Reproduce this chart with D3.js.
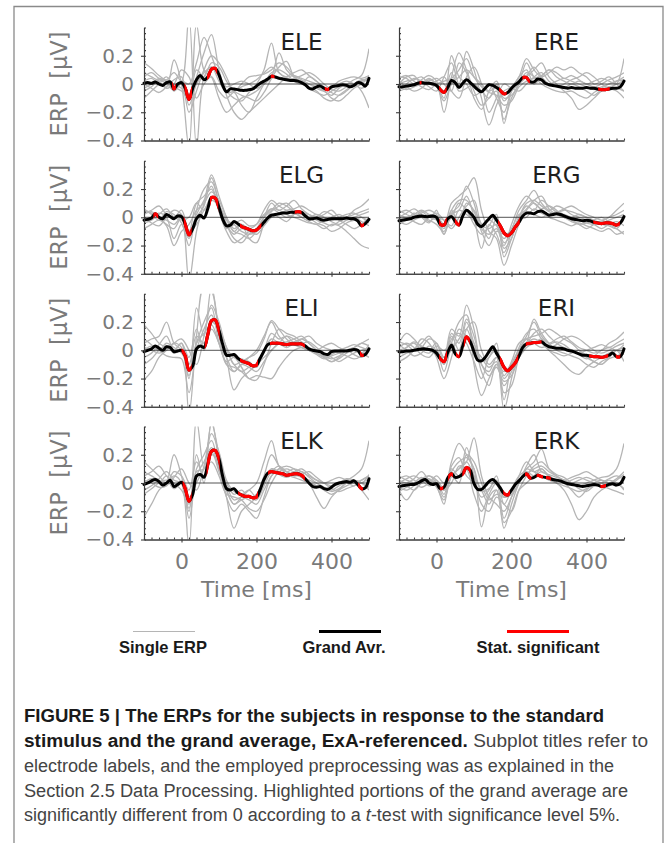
<!DOCTYPE html>
<html>
<head>
<meta charset="UTF-8">
<title>ERPs, ExA-referenced</title>
<script src="https://cdn.jsdelivr.net/npm/d3@7"></script>
<style>
  body { margin: 0; background: #fff; }
  svg { display: block; }
</style>
</head>
<body>
<svg id="fig" width="669" height="843"></svg>
<script>
// time grids (ms): grand average read every 10 ms, single ERPs every 20 ms
var tAvg = d3.range(-100, 501, 10);
var tSingle = d3.range(-100, 501, 20);

// ---- ELE ----
var avgELE = [0.005,0.01,0.005,0.015,0.0,-0.01,0.01,0.015,-0.035,0.0,
  0.01,-0.03,-0.11,-0.03,0.03,0.06,0.03,0.05,0.105,0.11,
  0.065,-0.01,-0.055,-0.035,-0.035,-0.04,-0.045,-0.045,-0.04,-0.035,
  -0.015,0.005,0.02,0.035,0.055,0.05,0.04,0.035,0.03,0.025,
  0.025,0.02,0.01,-0.005,-0.03,-0.035,-0.02,-0.015,-0.03,-0.04,
  -0.02,-0.015,-0.01,-0.005,-0.01,-0.02,-0.01,0.01,0.005,-0.015,
  0.04];
var sigELE = [[-25,-15],[8,28],[68,95],[238,248],[382,394]];
var singleELE = [
  [0.15,0.11,0.06,0.03,0.08,0.02,0.48,-0.45,0.05,0.12,0.02,-0.06,-0.05,-0.02,0.0,0.03,0.08,0.12,0.08,0.04,0.03,0.02,-0.03,-0.06,-0.08,-0.05,-0.02,0.0,0.03,0.06,0.25],
  [0.02,0.04,0.0,-0.02,0.17,0.0,-0.45,0.42,0.1,0.05,-0.1,-0.2,-0.15,-0.1,-0.08,-0.05,0.0,0.05,0.22,0.1,0.05,0.02,0.0,-0.02,-0.05,-0.08,-0.03,0.0,0.0,-0.05,-0.17],
  [-0.05,-0.02,0.03,0.0,-0.04,0.02,0.0,0.15,0.33,0.2,0.05,-0.05,-0.1,-0.12,-0.06,0.0,0.1,0.29,0.08,0.05,0.06,0.04,0.02,0.0,-0.03,-0.02,0.02,0.04,0.05,0.04,0.06],
  [0.05,0.08,0.04,0.02,0.0,-0.03,-0.1,0.05,0.22,0.35,0.1,-0.08,-0.2,-0.25,-0.2,-0.15,-0.1,-0.05,0.0,0.05,0.08,0.1,0.06,0.02,-0.02,-0.06,-0.08,-0.05,0.0,0.03,0.02],
  [-0.1,-0.05,0.0,0.05,-0.02,-0.05,-0.1,0.1,0.05,0.15,0.12,0.02,-0.05,-0.08,-0.1,-0.12,-0.06,0.04,0.12,0.16,0.05,0.0,-0.02,-0.05,-0.1,-0.12,-0.08,-0.04,0.0,0.02,0.05],
  [0.0,-0.03,-0.06,-0.02,0.03,0.05,-0.15,0.0,0.08,0.12,0.06,-0.02,0.0,0.02,0.0,-0.03,0.0,0.04,0.05,0.03,0.04,0.06,0.08,0.05,0.0,-0.04,-0.05,-0.02,0.0,0.02,0.03],
  [0.08,0.05,0.02,-0.03,0.0,0.1,0.05,-0.1,0.0,0.05,-0.05,-0.1,-0.06,-0.15,-0.2,-0.1,0.0,0.08,0.1,0.07,0.02,0.0,0.05,0.02,-0.04,-0.1,-0.12,-0.08,-0.03,0.0,0.05],
  [-0.03,0.0,0.04,0.02,-0.05,0.0,-0.2,-0.05,0.1,0.2,0.15,0.05,-0.05,0.0,0.05,0.06,0.07,0.1,0.15,0.12,0.06,0.03,0.0,-0.03,-0.05,-0.03,0.0,0.02,0.0,-0.03,0.0]
];

// ---- ERE ----
var avgERE = [-0.02,-0.02,-0.015,-0.01,-0.005,0.005,0.01,0.005,0.005,0.0,
  -0.01,-0.04,-0.06,-0.025,0.025,0.01,-0.025,0.005,0.03,0.01,
  -0.015,-0.04,-0.055,-0.03,-0.005,-0.01,-0.025,-0.045,-0.07,-0.06,
  -0.03,-0.005,0.015,0.045,0.045,0.015,0.015,0.035,0.03,0.005,
  -0.005,-0.01,-0.015,-0.02,-0.025,-0.03,-0.025,-0.03,-0.03,-0.03,
  -0.025,-0.03,-0.03,-0.035,-0.04,-0.04,-0.035,-0.03,-0.03,-0.02,
  0.02];
var sigERE = [[-45,-40],[7,27],[167,187],[229,249],[431,462]];
var singleERE = [
  [0.05,0.04,0.0,0.03,0.06,0.02,-0.2,0.05,0.22,0.1,-0.05,-0.15,-0.1,-0.05,-0.25,-0.1,0.0,0.15,0.05,0.02,0.0,0.02,0.04,0.02,0.0,-0.02,-0.04,-0.02,0.0,0.02,0.05],
  [-0.03,0.0,0.04,0.02,-0.02,-0.05,0.05,0.15,0.0,0.23,0.1,-0.1,-0.29,-0.15,-0.05,-0.02,0.05,0.18,0.1,0.05,0.08,0.12,0.1,0.12,0.08,0.05,0.0,0.02,0.05,0.0,-0.05],
  [0.0,0.05,0.06,0.0,0.03,0.0,-0.1,0.2,0.05,0.0,-0.08,-0.05,0.0,-0.1,-0.2,-0.05,0.0,0.05,0.1,0.15,0.05,0.0,-0.05,-0.1,-0.18,-0.15,-0.1,-0.05,-0.02,0.0,0.18],
  [-0.05,-0.03,0.0,0.02,0.0,0.02,0.05,-0.05,-0.1,0.05,0.12,0.0,-0.2,-0.1,0.0,-0.03,-0.05,0.0,0.05,0.08,0.02,-0.02,0.0,0.03,0.05,0.08,0.05,0.0,-0.03,-0.05,-0.1],
  [0.02,-0.02,-0.05,-0.03,0.02,0.04,0.0,-0.05,0.15,0.08,-0.1,-0.18,-0.05,0.02,-0.1,-0.08,0.0,0.08,0.05,0.0,-0.03,-0.05,-0.06,-0.05,-0.08,-0.1,-0.06,-0.03,0.0,0.02,0.03],
  [0.0,0.02,0.03,0.05,0.0,-0.02,-0.12,0.0,0.05,0.1,0.05,0.0,-0.05,-0.03,-0.28,-0.05,0.05,0.1,0.0,0.05,0.1,0.05,0.02,0.0,0.02,0.0,-0.02,0.0,0.03,0.05,0.08],
  [-0.02,-0.04,-0.02,0.0,0.04,0.0,-0.05,0.08,-0.05,-0.03,0.0,-0.05,-0.1,0.0,-0.12,-0.05,0.03,0.06,0.12,0.05,0.0,-0.02,-0.03,0.0,-0.02,-0.05,-0.08,-0.04,-0.02,-0.03,-0.05],
  [0.04,0.06,0.02,-0.02,-0.04,0.0,0.02,0.04,0.1,0.18,0.05,-0.02,-0.06,-0.08,-0.15,-0.12,-0.02,0.02,0.04,0.06,0.1,0.08,0.04,0.06,0.03,0.0,0.02,0.04,0.02,0.0,0.03]
];

// ---- ELG ----
var avgELG = [-0.02,-0.015,-0.005,0.025,0.0,-0.01,0.02,0.005,-0.01,0.01,
  0.005,-0.05,-0.125,-0.08,-0.01,0.015,-0.005,0.06,0.14,0.135,
  0.07,-0.015,-0.06,-0.055,-0.03,-0.045,-0.065,-0.075,-0.085,-0.095,
  -0.09,-0.065,-0.035,-0.005,0.015,0.02,0.025,0.03,0.03,0.035,
  0.035,0.04,0.035,0.01,-0.01,-0.01,-0.005,-0.015,-0.02,-0.015,
  -0.01,-0.01,-0.01,-0.01,-0.005,-0.01,-0.01,-0.025,-0.06,-0.045,
  -0.015];
var sigELG = [[-75,-62],[6,27],[76,98],[156,213],[302,320],[477,487]];
var singleELG = [
  [0.05,0.03,0.0,-0.05,-0.08,0.0,-0.45,-0.1,0.1,0.3,0.15,0.0,-0.1,-0.05,-0.08,-0.05,0.05,0.12,0.08,0.05,0.03,0.0,-0.03,-0.05,-0.02,0.0,0.02,0.0,0.05,0.08,0.13],
  [-0.02,0.0,0.03,0.0,-0.15,-0.05,-0.2,0.05,0.2,0.25,0.1,-0.05,-0.15,-0.18,-0.12,-0.08,0.0,0.06,0.05,0.02,0.0,-0.02,-0.04,-0.05,-0.08,-0.05,-0.06,-0.1,-0.15,-0.2,-0.22],
  [0.03,0.05,0.08,0.02,0.0,0.05,-0.1,0.1,0.15,0.2,0.05,-0.02,-0.05,-0.1,-0.12,-0.1,0.0,0.1,0.05,0.08,0.12,0.06,0.02,0.0,0.02,0.05,0.0,-0.02,0.0,0.02,0.04],
  [-0.08,-0.05,-0.02,-0.06,-0.2,-0.1,-0.05,0.05,0.1,0.18,0.12,0.0,-0.08,-0.05,-0.15,-0.18,-0.05,0.02,0.0,-0.03,0.02,0.04,0.0,-0.04,-0.06,-0.1,-0.08,-0.04,-0.02,0.0,-0.03],
  [0.06,0.02,-0.02,0.04,0.02,-0.04,-0.15,0.0,0.08,0.28,0.1,-0.05,-0.12,-0.08,-0.1,-0.12,-0.06,0.0,0.02,0.05,0.06,0.08,0.05,0.02,0.0,-0.02,0.0,0.02,0.03,0.0,-0.04],
  [0.0,-0.04,-0.06,0.0,0.05,0.02,-0.1,-0.05,0.05,0.12,0.08,-0.02,-0.1,-0.12,-0.15,-0.1,-0.03,0.04,0.08,0.1,0.05,0.0,-0.02,0.0,0.04,0.02,-0.02,-0.05,-0.08,-0.05,0.0],
  [-0.04,-0.02,0.02,0.06,0.0,-0.02,0.0,0.1,0.05,0.15,0.05,-0.08,-0.05,-0.02,-0.06,-0.05,0.02,0.06,0.03,0.0,0.02,0.03,0.02,-0.02,-0.04,-0.06,-0.03,0.0,0.02,0.04,0.06],
  [0.02,0.04,0.0,-0.02,-0.05,0.0,-0.12,0.02,0.12,0.22,0.04,-0.1,-0.18,-0.15,-0.1,-0.08,0.0,0.05,0.1,0.08,0.04,0.02,0.0,0.02,0.0,-0.03,-0.05,-0.02,0.0,-0.03,-0.06]
];

// ---- ERG ----
var avgERG = [-0.025,-0.02,-0.015,-0.01,0.0,0.005,0.01,0.005,0.005,0.01,
  0.0,-0.05,-0.055,-0.01,0.005,-0.03,-0.055,0.01,0.05,0.03,
  0.0,-0.05,-0.065,-0.04,-0.01,0.015,-0.02,-0.06,-0.11,-0.13,
  -0.11,-0.07,-0.035,0.01,0.03,0.03,0.025,0.04,0.045,0.03,
  0.015,0.02,0.025,0.02,0.01,0.0,-0.01,-0.015,-0.02,-0.025,
  -0.02,-0.025,-0.035,-0.04,-0.045,-0.04,-0.04,-0.045,-0.055,-0.04,
  0.005];
var sigERG = [[7,27],[49,62],[164,222],[418,489]];
var singleERG = [
  [0.03,0.05,0.02,0.0,0.02,0.0,-0.05,0.1,0.15,0.2,0.28,0.05,-0.1,-0.15,-0.34,-0.2,-0.05,0.05,0.1,0.05,0.02,0.04,0.02,0.0,-0.02,-0.04,-0.05,-0.03,0.0,0.02,0.05],
  [-0.05,-0.02,0.0,0.04,0.0,-0.02,-0.12,0.02,0.05,0.15,0.0,-0.22,-0.05,-0.12,-0.25,-0.1,0.05,0.12,0.19,0.1,0.05,0.08,0.06,0.02,0.0,-0.02,-0.05,-0.08,-0.05,-0.03,-0.06],
  [0.0,0.03,0.06,0.02,-0.03,0.0,-0.08,0.05,-0.05,0.1,0.05,-0.05,-0.15,0.0,-0.18,-0.12,0.0,0.08,0.05,0.12,0.08,0.04,0.06,0.08,0.05,0.02,0.0,-0.02,0.0,0.05,0.1],
  [-0.02,0.0,-0.03,-0.05,0.0,0.03,-0.02,-0.08,0.0,0.08,0.12,-0.05,-0.08,-0.05,-0.22,-0.15,-0.02,0.0,0.06,0.03,0.0,-0.02,-0.04,-0.06,-0.04,-0.06,-0.08,-0.1,-0.08,-0.12,-0.1],
  [0.05,0.02,0.0,0.03,0.05,0.02,-0.05,0.0,0.1,0.05,-0.05,-0.12,-0.06,0.02,-0.28,-0.15,0.0,0.1,0.12,0.08,0.04,0.02,0.0,-0.03,-0.05,-0.04,-0.02,0.0,-0.03,-0.05,-0.02],
  [-0.03,-0.05,-0.02,0.0,-0.02,-0.05,-0.1,0.03,0.08,0.22,0.1,-0.08,-0.12,-0.08,-0.2,-0.05,0.08,0.15,0.1,0.06,0.08,0.05,0.0,0.0,0.02,0.0,-0.03,-0.05,-0.06,-0.08,0.0],
  [0.02,0.0,0.02,0.05,0.02,0.0,-0.02,-0.06,0.05,0.02,-0.02,-0.06,-0.02,-0.06,-0.15,-0.08,0.02,0.04,0.02,0.0,0.02,0.03,0.05,0.04,0.02,0.0,-0.02,-0.04,-0.02,0.0,0.02],
  [0.0,-0.02,0.03,0.0,-0.04,0.05,-0.12,0.05,0.12,0.12,0.04,-0.1,-0.2,-0.1,-0.12,-0.1,0.0,0.06,0.12,0.15,0.06,0.02,0.0,-0.02,-0.05,-0.08,-0.05,-0.03,-0.05,-0.08,-0.12]
];

// ---- ELI ----
var avgELI = [-0.01,0.0,0.01,0.03,0.015,0.0,0.025,0.02,-0.01,-0.005,
  0.0,-0.04,-0.14,-0.11,0.01,0.03,0.02,0.11,0.21,0.215,
  0.14,0.04,-0.035,-0.035,-0.03,-0.055,-0.075,-0.085,-0.095,-0.11,
  -0.105,-0.055,-0.005,0.04,0.05,0.05,0.05,0.045,0.04,0.045,
  0.045,0.045,0.045,0.03,0.01,0.0,-0.005,-0.01,-0.025,-0.03,
  -0.01,-0.005,-0.005,-0.005,-0.005,0.0,0.005,0.0,-0.035,-0.03,
  0.01];
var sigELI = [[0,27],[62,102],[156,204],[236,329],[476,486]];
var singleELI = [
  [0.18,0.12,0.05,0.02,0.0,0.05,-0.45,0.1,0.45,0.42,0.1,-0.1,-0.15,-0.1,-0.05,0.0,0.1,0.2,0.1,0.05,0.06,0.08,0.05,0.0,-0.04,-0.06,-0.04,0.0,0.02,0.05,0.03],
  [-0.21,-0.15,-0.05,0.0,0.05,0.02,-0.2,0.3,0.1,0.45,0.15,-0.05,-0.28,-0.2,-0.15,-0.1,0.0,0.12,0.08,0.1,0.05,0.02,0.0,-0.02,-0.05,-0.08,-0.06,-0.02,0.0,-0.02,-0.05],
  [0.05,0.08,0.1,0.2,0.05,0.0,-0.15,0.05,0.2,0.3,0.05,-0.08,-0.05,-0.12,-0.2,-0.21,-0.1,0.05,0.15,0.12,0.1,0.06,0.02,0.0,0.03,0.05,0.02,0.0,0.02,0.05,0.08],
  [0.0,0.03,0.0,-0.04,-0.05,-0.06,-0.3,0.0,0.15,0.25,0.1,0.0,-0.1,-0.15,-0.12,-0.1,-0.05,0.0,0.05,0.1,0.08,0.05,0.06,0.02,-0.02,-0.05,-0.08,-0.05,-0.02,0.0,0.02],
  [0.08,0.04,0.0,0.05,0.02,-0.02,-0.1,0.1,0.05,0.2,0.15,0.02,-0.1,-0.08,-0.05,-0.02,0.08,0.21,0.15,0.08,0.04,0.02,0.0,-0.03,-0.06,-0.04,-0.02,0.0,-0.03,-0.05,0.0],
  [-0.05,-0.02,0.04,0.1,0.0,0.05,-0.05,0.15,0.0,0.15,0.05,-0.1,-0.12,-0.15,-0.2,-0.18,-0.19,-0.2,-0.12,-0.05,0.0,0.02,0.0,-0.02,-0.05,-0.03,0.0,0.02,0.04,0.02,0.0],
  [0.02,0.0,-0.02,0.0,0.05,0.08,0.0,-0.1,0.1,0.32,0.2,0.02,-0.05,-0.06,-0.08,-0.12,0.0,0.08,0.05,0.02,0.05,0.08,0.1,0.05,0.02,0.0,-0.02,-0.04,-0.06,-0.04,0.02],
  [-0.1,-0.06,0.0,0.03,-0.02,0.0,-0.18,0.05,0.12,0.18,0.05,-0.05,-0.15,-0.1,-0.12,-0.15,-0.08,0.0,0.05,0.06,0.08,0.1,0.05,0.0,-0.05,-0.08,-0.05,0.0,0.0,-0.02,0.04]
];

// ---- ERI ----
var avgERI = [-0.01,-0.01,-0.005,-0.005,0.0,0.005,0.01,0.01,0.005,0.0,
  -0.02,-0.06,-0.08,-0.015,0.035,-0.025,-0.045,0.03,0.095,0.06,
  -0.01,-0.07,-0.075,-0.05,-0.01,0.025,-0.02,-0.065,-0.12,-0.145,
  -0.12,-0.09,-0.04,0.02,0.045,0.05,0.055,0.055,0.06,0.04,
  0.025,0.02,0.015,0.015,0.01,0.0,-0.005,-0.015,-0.025,-0.035,
  -0.035,-0.04,-0.045,-0.045,-0.05,-0.045,-0.035,-0.02,-0.045,-0.045,
  0.01];
var sigERI = [[7,28],[52,62],[73,89],[169,218],[238,280],[407,458],[478,490]];
var singleERI = [
  [0.05,0.12,0.08,0.02,0.0,0.05,-0.05,0.15,0.1,0.32,0.15,-0.1,-0.15,-0.05,-0.42,-0.2,0.0,0.1,0.2,0.1,0.05,0.08,0.1,0.06,0.02,0.0,-0.02,0.0,0.05,0.08,0.13],
  [-0.05,-0.02,0.0,0.05,0.1,0.02,-0.15,0.05,0.2,0.25,-0.1,-0.32,-0.2,-0.1,-0.25,-0.15,0.0,0.08,0.1,0.12,0.15,0.12,0.08,0.05,0.0,-0.05,-0.08,-0.1,-0.05,0.0,0.02],
  [0.02,0.05,0.02,-0.03,-0.05,0.0,-0.1,0.1,0.0,0.2,0.05,-0.08,-0.05,0.05,-0.3,-0.25,-0.05,0.05,0.22,0.12,0.05,0.0,-0.02,-0.04,-0.06,-0.1,-0.12,-0.08,-0.05,0.0,-0.03],
  [-0.08,-0.05,0.0,0.08,0.05,-0.05,-0.2,-0.05,0.15,0.1,0.05,-0.15,-0.25,-0.1,-0.15,-0.1,-0.05,0.02,0.05,0.08,0.0,-0.05,-0.1,-0.15,-0.17,-0.12,-0.08,-0.05,-0.02,0.0,-0.08],
  [0.0,0.02,0.05,0.0,-0.02,0.03,0.0,0.05,-0.05,0.15,0.2,0.0,-0.1,-0.05,-0.2,-0.12,0.02,0.12,0.15,0.08,0.02,0.04,0.08,0.1,0.08,0.04,0.0,-0.02,0.0,0.03,0.05],
  [0.04,0.0,-0.04,-0.02,0.03,0.0,-0.1,0.08,0.12,0.05,-0.08,-0.2,-0.05,0.0,-0.18,-0.08,0.05,0.08,0.05,0.02,0.04,0.06,0.04,0.0,-0.03,-0.06,-0.04,0.0,0.02,0.0,0.04],
  [-0.03,0.02,0.06,0.03,0.0,-0.03,-0.05,0.0,0.08,0.15,0.02,-0.05,-0.12,-0.08,-0.35,-0.1,0.0,0.05,0.08,0.05,0.0,-0.02,-0.04,-0.02,0.0,-0.04,-0.08,-0.1,-0.06,-0.04,-0.02],
  [0.06,0.04,0.0,0.02,0.08,0.05,-0.08,0.12,0.05,0.22,0.1,-0.1,-0.18,-0.12,-0.22,-0.18,-0.05,0.04,0.12,0.15,0.1,0.05,0.02,0.0,-0.02,0.0,0.02,0.04,0.02,0.05,0.08]
];

// ---- ELK ----
var avgELK = [-0.01,0.0,0.015,0.025,0.01,-0.015,0.0,0.02,-0.025,-0.01,
  0.005,-0.04,-0.13,-0.08,0.05,0.06,0.04,0.13,0.225,0.23,
  0.17,0.045,-0.04,-0.05,-0.04,-0.07,-0.085,-0.095,-0.095,-0.105,
  -0.1,-0.045,0.025,0.07,0.08,0.075,0.07,0.065,0.055,0.06,
  0.065,0.065,0.055,0.03,0.0,-0.025,-0.03,-0.025,-0.04,-0.045,
  -0.03,-0.01,0.0,0.005,0.01,0.005,0.015,-0.01,-0.04,-0.035,
  0.03];
var sigELK = [[3,27],[67,102],[151,204],[231,329],[471,484]];
var singleELK = [
  [0.15,0.1,0.05,0.0,0.05,0.0,-0.45,0.45,0.1,0.42,0.2,-0.05,-0.15,-0.1,-0.05,0.0,0.15,0.3,0.12,0.08,0.1,0.08,0.05,0.02,0.0,-0.02,0.0,0.02,0.05,0.1,0.3],
  [-0.24,-0.15,-0.05,0.0,0.2,0.05,-0.2,0.2,0.0,0.45,0.15,-0.1,-0.32,-0.2,-0.15,-0.1,0.0,0.1,0.08,0.05,0.06,0.05,0.02,0.0,-0.03,-0.06,-0.04,0.0,0.02,0.0,-0.05],
  [0.05,0.08,0.12,0.05,0.0,-0.05,-0.15,0.1,0.2,0.3,0.1,-0.1,-0.2,-0.15,-0.2,-0.25,-0.1,0.05,0.1,0.12,0.1,0.05,0.0,-0.1,-0.18,-0.1,-0.05,-0.02,0.0,0.02,0.05],
  [0.0,0.03,0.0,0.05,-0.03,0.0,-0.25,0.05,0.15,0.25,0.1,-0.02,-0.12,-0.1,-0.12,-0.15,-0.05,0.05,0.1,0.08,0.05,0.06,0.08,0.04,0.0,-0.04,-0.06,-0.04,-0.02,0.0,0.03],
  [0.08,0.05,0.02,0.0,0.08,0.05,-0.05,0.15,0.05,0.2,0.15,0.0,-0.08,-0.05,-0.1,-0.08,0.05,0.2,0.12,0.06,0.04,0.02,0.0,-0.02,-0.05,-0.08,-0.05,0.0,0.02,0.0,-0.03],
  [-0.05,-0.02,0.03,0.08,0.02,0.0,-0.1,0.0,0.1,0.15,0.05,-0.08,-0.1,-0.12,-0.18,-0.2,-0.12,0.0,0.08,0.1,0.08,0.1,0.06,0.02,0.0,0.02,0.04,0.02,0.0,-0.05,-0.12],
  [0.02,0.0,-0.03,-0.02,0.04,0.1,0.0,-0.05,0.12,0.35,0.22,0.02,-0.06,-0.08,-0.05,-0.1,0.02,0.1,0.06,0.04,0.06,0.08,0.04,0.0,-0.03,-0.05,-0.02,0.0,-0.02,0.02,0.05],
  [-0.08,-0.04,0.0,0.02,-0.04,0.0,-0.18,0.08,0.1,0.22,0.08,-0.05,-0.15,-0.12,-0.1,-0.12,-0.02,0.08,0.12,0.08,0.06,0.04,0.0,-0.02,-0.04,-0.02,0.0,0.03,0.02,0.0,0.06]
];

// ---- ERK ----
var avgERK = [-0.025,-0.02,-0.015,-0.01,-0.01,0.0,0.015,0.025,0.0,-0.01,
  -0.005,-0.04,-0.03,0.035,0.065,0.04,0.045,0.065,0.11,0.09,
  -0.005,-0.045,-0.045,-0.02,0.01,0.025,0.0,-0.035,-0.075,-0.085,
  -0.05,-0.01,0.015,0.045,0.065,0.035,0.04,0.055,0.045,0.04,
  0.035,0.025,0.02,0.015,0.005,-0.005,-0.01,-0.015,-0.02,-0.025,
  -0.02,-0.015,-0.01,-0.015,-0.025,-0.02,-0.01,-0.005,-0.015,-0.005,
  0.04];
var sigERK = [[9,18],[31,44],[69,91],[178,196],[236,253],[267,284],[292,305],[437,452]];
var singleERK = [
  [0.03,0.05,0.02,0.0,0.02,0.0,-0.05,0.15,0.28,0.2,0.1,-0.31,-0.1,-0.05,-0.32,-0.15,0.0,0.1,0.15,0.24,0.1,0.05,0.02,0.0,-0.02,0.0,0.02,0.04,0.05,0.1,0.28],
  [-0.05,-0.12,-0.05,0.0,0.05,0.0,-0.1,0.05,0.1,0.15,0.32,0.05,-0.1,-0.15,-0.2,-0.1,0.0,0.1,0.08,0.1,0.05,0.02,0.0,-0.05,-0.1,-0.05,0.0,0.02,0.0,-0.02,0.05],
  [0.02,0.0,0.03,0.08,0.02,-0.02,-0.15,0.1,0.05,0.25,0.05,-0.15,-0.2,-0.1,-0.15,-0.2,-0.05,0.05,0.12,0.15,0.1,0.06,0.04,0.0,-0.04,-0.06,-0.02,0.0,0.03,0.05,0.02],
  [0.0,0.03,0.05,0.02,-0.02,0.0,-0.05,0.0,0.12,0.1,-0.08,-0.2,-0.08,0.0,-0.25,-0.1,0.05,0.15,0.08,0.05,0.02,0.0,-0.05,-0.15,-0.26,-0.2,-0.1,-0.05,-0.02,0.0,-0.05],
  [-0.03,-0.05,-0.02,0.03,0.05,0.02,-0.08,0.12,0.18,0.05,0.0,-0.1,-0.05,0.05,-0.15,-0.05,0.05,0.08,0.05,0.08,0.05,0.02,0.0,0.02,0.04,0.02,0.0,-0.02,-0.04,-0.06,-0.08],
  [0.05,0.02,0.0,-0.03,0.0,0.05,0.0,0.05,0.0,0.2,0.15,0.0,-0.12,-0.08,-0.1,-0.05,0.02,0.06,0.1,0.12,0.08,0.05,0.02,0.04,0.06,0.08,0.05,0.02,0.0,0.03,0.08],
  [0.0,-0.02,-0.05,0.0,0.03,-0.03,-0.12,0.05,0.1,0.15,0.05,-0.05,-0.15,-0.05,-0.28,-0.2,-0.05,0.0,0.05,0.1,0.04,0.0,-0.02,-0.04,-0.06,-0.04,-0.02,0.0,0.02,0.0,-0.04],
  [-0.06,-0.03,0.0,0.04,0.0,0.02,-0.04,0.08,0.15,0.18,0.1,-0.06,-0.04,0.02,-0.1,-0.08,0.0,0.12,0.2,0.08,0.06,0.04,0.02,0.0,0.02,0.04,0.02,0.0,-0.02,0.02,0.06]
];

var xMajor = [0, 200, 400];
var yMajor = [-0.4, -0.2, 0, 0.2];
var legendLabels = ["Single ERP", "Grand Avr.", "Stat. significant"];

var panels = [
  {name: "ELE", row: 0, col: 0, avg: avgELE, sig: sigELE, single: singleELE},
  {name: "ERE", row: 0, col: 1, avg: avgERE, sig: sigERE, single: singleERE},
  {name: "ELG", row: 1, col: 0, avg: avgELG, sig: sigELG, single: singleELG},
  {name: "ERG", row: 1, col: 1, avg: avgERG, sig: sigERG, single: singleERG},
  {name: "ELI", row: 2, col: 0, avg: avgELI, sig: sigELI, single: singleELI},
  {name: "ERI", row: 2, col: 1, avg: avgERI, sig: sigERI, single: singleERI},
  {name: "ELK", row: 3, col: 0, avg: avgELK, sig: sigELK, single: singleELK},
  {name: "ERK", row: 3, col: 1, avg: avgERK, sig: sigERK, single: singleERK}
];

// layout
var colX = [144, 399], colW = 225;
var rowY = [27.5, 160.8, 293.8, 426.5], rowH = 113;
var tickFont = "'DejaVu Sans', sans-serif";
var grey = "#7a7a7a";

var svg = d3.select("#fig");
var defs = svg.append("defs");

// outer frame of the figure
svg.append("path")
  .attr("d", "M14,843V6.5H663V843")
  .attr("fill", "none").attr("stroke", "#8a8a8a").attr("stroke-width", 1.3);

var fmtY = function(d) { return d === 0 ? "0" : d3.format(".1f")(d); };

panels.forEach(function(p, i) {
  var x0 = colX[p.col], y0 = rowY[p.row];
  var x = d3.scaleLinear().domain([-100, 500]).range([x0, x0 + colW]);
  var y = d3.scaleLinear().domain([-0.4, 0.4]).range([y0 + rowH, y0]);

  defs.append("clipPath").attr("id", "area" + i)
    .append("rect").attr("x", x0).attr("y", y0).attr("width", colW).attr("height", rowH);
  var sigClip = defs.append("clipPath").attr("id", "sig" + i);
  sigClip.selectAll("rect").data(p.sig).join("rect")
    .attr("x", function(d) { return x(d[0]); })
    .attr("width", function(d) { return x(d[1]) - x(d[0]); })
    .attr("y", y0).attr("height", rowH);

  var g = svg.append("g");
  var line = d3.line()
    .defined(function(d) { return d[0] !== undefined; })
    .x(function(d) { return x(d[0]); })
    .y(function(d) { return y(d[1]); })
    .curve(d3.curveCatmullRom.alpha(0.5));

  var plot = g.append("g").attr("clip-path", "url(#area" + i + ")");
  plot.selectAll("path.single").data(p.single).join("path")
    .attr("class", "single")
    .attr("d", function(s) { return line(s.map(function(v, k) { return [tSingle[k], v]; })); })
    .attr("fill", "none").attr("stroke", "#b5b5b5").attr("stroke-width", 1.3);

  // zero line
  g.append("line")
    .attr("x1", x(-100)).attr("x2", x(500)).attr("y1", y(0)).attr("y2", y(0))
    .attr("stroke", "#2a2a2a").attr("stroke-width", 0.8);

  var avgPts = p.avg.map(function(v, k) { return [tAvg[k], v]; });
  g.append("path").attr("d", line(avgPts))
    .attr("fill", "none").attr("stroke", "#000").attr("stroke-width", 3)
    .attr("stroke-linejoin", "round").attr("stroke-linecap", "round");
  g.append("path").attr("d", line(avgPts)).attr("clip-path", "url(#sig" + i + ")")
    .attr("fill", "none").attr("stroke", "#ff0000").attr("stroke-width", 3.2)
    .attr("stroke-linejoin", "round");

  // axes: major ticks outward, minor ticks inward
  var yAx = g.append("g").attr("transform", "translate(" + x0 + ",0)")
    .call(d3.axisLeft(y).tickValues(yMajor).tickSize(3).tickSizeOuter(0)
      .tickFormat(p.col === 0 ? fmtY : ""));
  g.append("g").attr("transform", "translate(" + x0 + ",0)")
    .call(d3.axisRight(y).tickValues(d3.range(-0.4, 0.401, 0.04)).tickSize(2).tickSizeOuter(0).tickFormat(""));
  var xAx = g.append("g").attr("transform", "translate(0," + (y0 + rowH) + ")")
    .call(d3.axisBottom(x).tickValues(xMajor).tickSize(3).tickSizeOuter(0)
      .tickFormat(p.row === 3 ? d3.format("d") : ""));
  g.append("g").attr("transform", "translate(0," + (y0 + rowH) + ")")
    .call(d3.axisTop(x).tickValues(d3.range(-100, 501, 20)).tickSize(2).tickSizeOuter(0).tickFormat(""));

  g.selectAll(".domain, .tick line").attr("stroke", "#3c3c3c").attr("stroke-width", 1.1);
  yAx.selectAll("text").attr("x", -10).attr("font-family", tickFont)
    .attr("font-size", 20).attr("fill", grey);
  xAx.selectAll("text").attr("y", 14).attr("font-family", tickFont)
    .attr("font-size", 22).attr("fill", grey);

  // electrode title
  g.append("text").attr("x", x(320)).attr("y", y0 + 22.5)
    .attr("text-anchor", "middle").attr("font-family", tickFont)
    .attr("font-size", 23).attr("fill", "#1e1e1e").text(p.name);

  if (p.col === 0) {
    g.append("text")
      .attr("transform", "translate(" + 67 + "," + (y0 + rowH / 2) + ") rotate(-90)")
      .attr("text-anchor", "middle").attr("font-family", tickFont)
      .attr("font-size", 22.5).attr("fill", grey)
      .attr("xml:space", "preserve")
      .text("ERP  [\u03bcV]");
  }
  if (p.row === 3) {
    g.append("text").attr("x", x(200)).attr("y", 597)
      .attr("text-anchor", "middle").attr("font-family", tickFont)
      .attr("font-size", 22).attr("fill", grey)
      .text("Time [ms]");
  }
});

// legend
var legendColors = ["#b5b5b5", "#000", "#ff0000"];
var legendWidths = [1.2, 3.2, 3.2];
var legendLineX = [164, 350, 538];
var legendTextX = [163, 344, 538];
var lg = svg.append("g").attr("font-family", "'Liberation Sans', Arial, sans-serif");
legendLabels.forEach(function(lab, i) {
  lg.append("line").attr("x1", legendLineX[i] - 31).attr("x2", legendLineX[i] + 31)
    .attr("y1", 631.5).attr("y2", 631.5)
    .attr("stroke", legendColors[i]).attr("stroke-width", legendWidths[i]);
  lg.append("text").attr("x", legendTextX[i]).attr("y", 653)
    .attr("text-anchor", "middle").attr("font-size", 16.5).attr("font-weight", "bold")
    .attr("fill", "#1a1a1a").text(lab);
});

// caption
var cap = svg.append("g").attr("font-family", "'Liberation Sans', Arial, sans-serif")
  .attr("font-size", 18);
var capEnd = [604, 648, 614, 628, 620];
var c1 = cap.append("text").attr("x", 24).attr("y", 722).attr("fill", "#1a1a1a")
  .attr("font-weight", "bold")
  .text("FIGURE 5 | The ERPs for the subjects in response to the standard");
var c2 = cap.append("text").attr("x", 24).attr("y", 747);
c2.append("tspan").attr("font-weight", "bold").attr("fill", "#1a1a1a")
  .text("stimulus and the grand average, ExA-referenced.");
c2.append("tspan").attr("fill", "#444").text(" Subplot titles refer to");
var c3 = cap.append("text").attr("x", 24).attr("y", 772).attr("fill", "#444")
  .text("electrode labels, and the employed preprocessing was as explained in the");
var c4 = cap.append("text").attr("x", 24).attr("y", 797).attr("fill", "#444")
  .text("Section 2.5 Data Processing. Highlighted portions of the grand average are");
var c5 = cap.append("text").attr("x", 24).attr("y", 821).attr("fill", "#444");
c5.append("tspan").text("significantly different from 0 according to a ");
c5.append("tspan").attr("font-style", "italic").text("t");
c5.append("tspan").text("-test with significance level 5%.");
[c1, c2, c3, c4, c5].forEach(function(t, k) {
  t.attr("textLength", capEnd[k] - 24).attr("lengthAdjust", "spacingAndGlyphs");
});
</script>
</body>
</html>
